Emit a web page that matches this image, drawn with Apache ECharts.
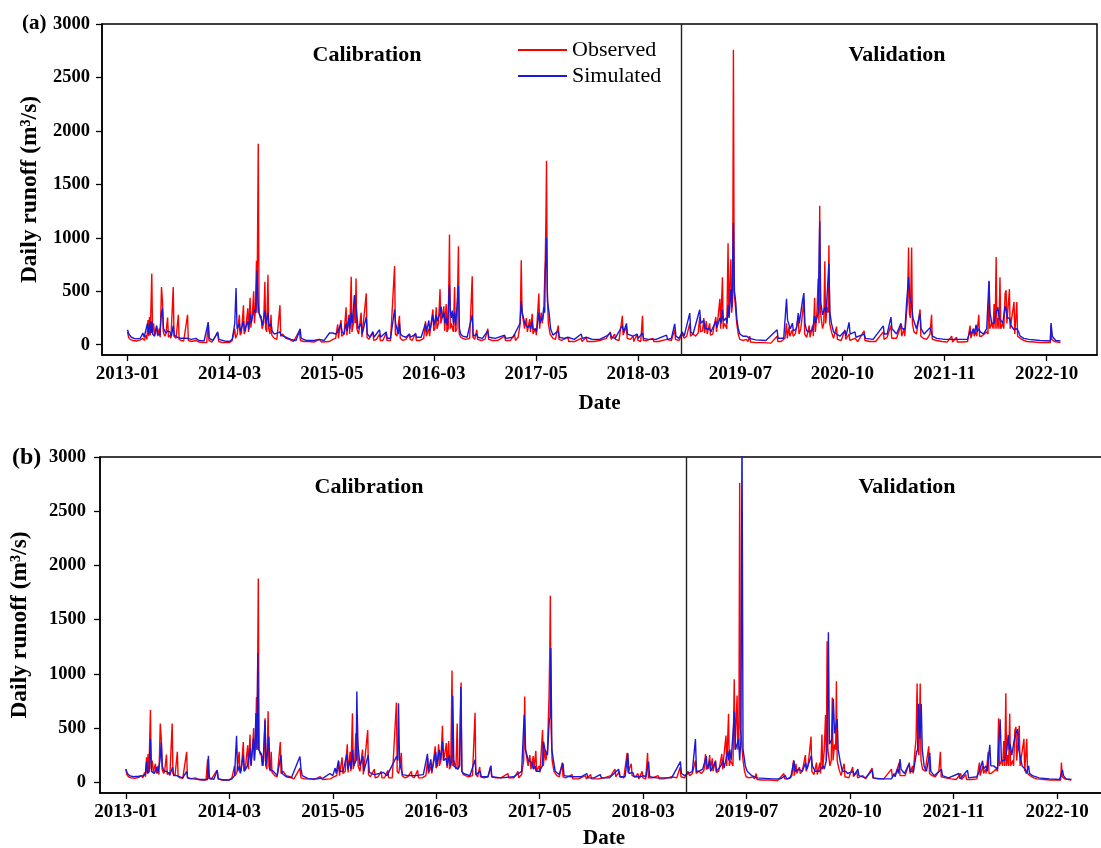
<!DOCTYPE html>
<html>
<head>
<meta charset="utf-8">
<script src="https://cdn.jsdelivr.net/npm/echarts@6/dist/echarts.min.js"></script>
<style>
html,body{margin:0;padding:0;background:#fff;}
#chart{width:1101px;height:848px;}
</style>
</head>
<body>
<div id="chart"></div>
<script>
// x values are day indices from the first record; ticks every 400 records
const tickDays = [0, 400, 800, 1200, 1600, 2000, 2400, 2800, 3200, 3600];
const tickLabels = ['2013-01','2014-03','2015-05','2016-03','2017-05','2018-03','2019-07','2020-10','2021-11','2022-10'];
const yTicks = [0, 500, 1000, 1500, 2000, 2500, 3000];
const splitDay = 2168; // calibration / validation boundary

const observed = [
[0,120],[4,70],[10,50],[20,40],[35,35],[50,45],[60,60],[66,40],[72,90],[76,50],[80,230],[83,80],[86,260],[89,90],[95,665],[98,120],[102,200],[106,90],[114,170],[118,80],[124,150],[128,70],[133,540],[137,400],[140,120],[146,80],[150,100],[157,255],[160,70],[166,90],[170,60],[179,540],[182,80],[190,60],[199,280],[202,50],[210,40],[220,35],[235,280],[238,40],[250,30],[268,40],[280,25],[294,20],[310,20],[316,210],[319,40],[330,25],[353,110],[357,30],[372,20],[399,20],
[410,40],[420,150],[423,60],[430,100],[438,280],[441,90],[446,110],[454,370],[457,100],[462,130],[471,340],[474,120],[480,440],[483,160],[490,330],[494,500],[497,200],[501,330],[505,785],[507,300],[512,1880],[515,300],[520,250],[523,270],[527,150],[533,200],[538,590],[541,150],[545,120],[550,655],[553,150],[558,100],[562,280],[565,90],[575,60],[585,50],[597,370],[600,80],[608,100],[620,60],[634,50],[650,30],[673,130],[677,40],[690,30],[712,30],[730,25],[751,50],[760,25],[791,30],
[804,50],[815,60],[823,190],[826,60],[836,230],[839,80],[848,100],[856,350],[859,90],[867,280],[870,100],[876,635],[879,120],[885,200],[889,450],[892,200],[895,620],[898,150],[905,100],[915,300],[918,70],[925,60],[935,480],[938,70],[945,50],[961,120],[964,40],[975,50],[987,100],[990,40],[1000,40],[1013,110],[1016,40],[1030,40],[1046,735],[1049,100],[1055,80],[1065,270],[1068,60],[1078,40],[1090,50],[1104,100],[1107,50],[1115,40],[1128,110],[1131,40],[1145,40],[1160,60],[1167,220],[1170,80],[1180,150],[1183,80],[1190,90],[1196,330],[1199,130],
[1204,150],[1209,350],[1212,150],[1218,200],[1224,520],[1227,200],[1232,250],[1239,360],[1242,130],[1248,380],[1251,120],[1256,150],[1261,1030],[1264,150],[1268,200],[1272,200],[1276,120],[1281,540],[1284,120],[1290,150],[1296,920],[1299,100],[1305,70],[1313,60],[1325,50],[1340,60],[1350,640],[1353,70],[1360,50],[1368,140],[1371,50],[1385,40],[1400,50],[1411,150],[1414,50],[1430,40],[1450,40],[1477,80],[1480,40],[1500,40],[1516,100],[1519,40],[1530,70],[1538,200],[1542,790],[1545,300],[1551,300],[1555,150],[1562,250],[1566,120],[1575,240],[1578,120],[1585,290],[1588,100],[1598,150],[1601,90],
[1606,100],[1611,480],[1614,150],[1620,300],[1624,200],[1630,300],[1636,790],[1639,1230],[1641,1720],[1644,500],[1648,200],[1655,100],[1666,60],[1676,50],[1687,180],[1690,50],[1700,40],[1725,70],[1728,30],[1750,30],[1777,60],[1780,30],[1797,70],[1800,30],[1825,30],[1849,40],[1875,60],[1891,120],[1894,50],[1908,100],[1911,50],[1925,40],[1938,270],[1941,90],[1954,170],[1957,60],[1970,50],[1980,80],[1983,30],[1996,100],[1999,40],
[2010,30],[2017,270],[2020,40],[2035,40],[2058,60],[2061,30],[2080,30],[2111,50],[2130,40],[2143,140],[2146,50],[2160,40],[2173,100],[2180,60],[2190,80],[2202,200],[2205,80],[2215,100],[2225,80],[2235,110],[2241,260],[2244,120],[2252,130],[2257,250],[2260,110],[2267,220],[2270,100],[2280,200],[2283,90],[2292,100],[2304,260],[2307,120],[2313,130],[2320,430],[2323,150],[2330,630],[2333,150],[2338,200],[2343,200],[2347,150],[2352,950],[2355,300],[2363,800],[2366,300],[2370,400],[2373,2760],[2376,500],[2382,500],[2386,200],[2392,100],[2398,50],
[2410,40],[2424,50],[2430,30],[2437,80],[2440,25],[2460,20],[2489,20],[2520,15],[2544,80],[2547,30],[2560,30],[2575,60],[2581,200],[2584,60],[2591,170],[2594,80],[2604,140],[2607,80],[2615,100],[2627,250],[2630,100],[2637,150],[2644,300],[2649,420],[2652,100],[2660,70],[2670,180],[2673,70],[2683,180],[2686,80],[2691,440],[2694,120],[2700,300],[2705,620],[2708,200],[2711,1300],[2714,300],[2722,150],[2727,200],[2731,780],[2734,200],[2740,350],[2744,300],[2747,930],[2750,200],[2757,120],[2765,60],[2777,170],[2780,50],[2795,40],[2810,140],[2813,50],
[2826,100],[2829,40],[2849,60],[2860,30],[2885,130],[2888,40],[2907,30],[2930,30],[2960,120],[2963,50],[2975,70],[2990,180],[2993,60],[3012,60],[3029,180],[3032,80],[3041,150],[3044,80],[3051,300],[3055,400],[3059,910],[3062,300],[3066,250],[3071,910],[3074,200],[3080,120],[3090,100],[3104,330],[3107,80],[3117,60],[3130,50],[3143,100],[3149,280],[3152,50],[3169,40],[3190,30],[3210,25],[3228,80],[3231,25],[3247,70],[3250,25],[3270,25],[3290,30],[3300,180],[3303,60],
[3313,150],[3316,80],[3323,120],[3326,80],[3334,280],[3337,80],[3345,80],[3352,80],[3365,120],[3370,100],[3374,590],[3377,150],[3385,200],[3390,150],[3394,380],[3398,150],[3402,820],[3405,150],[3409,250],[3413,150],[3417,630],[3420,150],[3428,200],[3432,150],[3437,480],[3441,510],[3444,200],[3450,200],[3454,520],[3457,150],[3463,150],[3472,400],[3475,100],[3483,400],[3486,80],[3496,60],[3510,40],[3522,30],[3550,25],[3574,20],[3600,20],[3614,20],[3617,180],[3620,50],[3630,30],[3654,20]
];

const simulatedA = [
[0,140],[5,100],[15,70],[30,55],[50,60],[60,110],[65,70],[72,70],[78,200],[82,100],[88,220],[92,110],[95,220],[98,100],[106,80],[114,180],[118,100],[126,90],[133,300],[137,340],[141,150],[150,110],[157,130],[166,120],[172,80],[179,180],[183,90],[195,70],[210,60],[235,60],[250,50],[268,60],[280,40],[300,35],[316,210],[320,60],[335,40],[353,120],[358,50],[380,35],[399,30],
[410,50],[420,200],[425,530],[429,150],[438,200],[442,120],[454,220],[458,130],[471,220],[475,140],[480,290],[484,200],[490,270],[497,330],[502,300],[507,694],[511,400],[515,300],[523,250],[528,180],[538,320],[542,200],[550,300],[554,170],[562,200],[566,130],[575,100],[597,120],[601,90],[610,80],[620,70],[640,50],[660,40],[676,150],[680,60],[700,40],[730,40],[751,50],[770,40],[791,110],
[804,110],[815,100],[823,120],[827,110],[836,200],[840,120],[848,100],[856,200],[860,130],[867,250],[871,150],[876,300],[880,200],[889,464],[893,390],[897,300],[903,150],[915,200],[919,100],[935,260],[939,100],[950,70],[961,120],[965,70],[987,140],[991,70],[1013,120],[1017,60],[1030,60],[1046,330],[1050,200],[1060,100],[1065,200],[1069,100],[1078,80],[1090,70],[1104,100],[1108,70],[1128,100],[1132,70],[1150,70],[1167,200],[1171,120],[1180,227],[1184,130],[1196,280],[1200,180],
[1209,280],[1213,220],[1224,300],[1228,358],[1233,250],[1239,300],[1243,200],[1248,250],[1253,180],[1261,560],[1264,320],[1268,250],[1272,320],[1276,200],[1281,300],[1285,180],[1296,550],[1300,150],[1305,100],[1313,80],[1330,70],[1350,280],[1354,80],[1368,100],[1372,70],[1390,60],[1411,130],[1415,70],[1440,60],[1477,90],[1481,60],[1510,70],[1533,180],[1537,200],[1542,411],[1546,300],[1551,300],[1556,200],[1562,200],[1567,160],[1575,180],[1579,150],[1585,220],[1589,140],[1598,150],[1602,120],
[1611,300],[1615,200],[1620,250],[1625,230],[1630,350],[1634,300],[1636,670],[1641,1000],[1645,400],[1651,300],[1657,150],[1666,90],[1687,130],[1691,70],[1710,60],[1725,70],[1750,50],[1777,100],[1781,60],[1797,70],[1820,50],[1849,50],[1875,80],[1891,110],[1895,70],[1910,60],[1938,180],[1943,120],[1954,200],[1958,100],[1980,80],[1996,100],[2000,60],
[2017,110],[2021,60],[2040,50],[2070,50],[2111,90],[2115,50],[2130,60],[2143,196],[2148,80],[2160,60],[2173,120],[2180,80],[2202,296],[2206,120],[2215,100],[2241,327],[2245,200],[2257,230],[2262,150],[2280,150],[2285,120],[2304,220],[2308,160],[2320,250],[2325,200],[2330,330],[2334,220],[2343,250],[2348,200],[2352,374],[2356,250],[2363,520],[2367,350],[2373,1140],[2377,500],[2382,400],[2386,250],[2392,150],[2398,100],
[2410,80],[2424,80],[2437,60],[2460,45],[2500,40],[2544,140],[2548,60],[2570,60],[2581,430],[2585,230],[2591,233],[2596,150],[2604,202],[2608,130],[2620,150],[2627,296],[2631,200],[2644,420],[2649,483],[2653,200],[2660,130],[2670,120],[2683,140],[2691,270],[2695,200],[2705,300],[2711,1153],[2715,400],[2722,280],[2731,350],[2736,300],[2747,757],[2751,300],[2757,200],[2765,120],[2777,100],[2790,80],[2810,130],[2814,80],
[2826,209],[2830,100],[2849,120],[2853,70],[2885,100],[2890,60],[2920,50],[2960,177],[2964,100],[2975,100],[2990,258],[2994,150],[3012,100],[3029,200],[3034,150],[3045,150],[3051,383],[3056,400],[3059,633],[3064,450],[3071,380],[3076,250],[3090,150],[3104,290],[3108,150],[3120,100],[3143,160],[3149,160],[3153,80],[3169,60],[3200,50],[3228,50],[3260,50],[3290,50],[3300,130],[3305,100],
[3313,150],[3318,100],[3323,187],[3328,120],[3334,150],[3340,120],[3352,100],[3365,150],[3374,598],[3378,300],[3385,200],[3394,200],[3402,300],[3409,350],[3414,250],[3417,250],[3428,200],[3437,364],[3441,320],[3446,250],[3454,250],[3460,180],[3472,140],[3483,150],[3490,120],[3496,80],[3510,60],[3530,50],[3574,40],[3614,35],[3617,202],[3622,80],[3635,40],[3654,35]
];

const simulatedB = [
[0,120],[6,80],[15,60],[28,50],[50,55],[65,60],[75,70],[80,190],[84,80],[90,100],[95,400],[99,100],[110,80],[119,140],[123,80],[132,200],[137,370],[141,150],[147,100],[157,100],[170,70],[181,140],[185,60],[196,60],[220,40],[235,100],[239,40],[260,30],[290,25],[316,25],[319,243],[323,40],[340,25],[353,110],[357,30],[380,20],[399,20],
[410,30],[420,60],[428,428],[432,100],[439,150],[443,80],[454,252],[458,100],[470,150],[480,310],[484,150],[493,400],[497,200],[503,637],[507,300],[510,1191],[514,300],[525,250],[530,150],[538,570],[542,150],[553,420],[557,120],[570,100],[585,60],[600,250],[604,80],[620,50],[640,40],[673,237],[677,120],[682,60],[706,30],[740,30],[764,40],[789,80],
[800,60],[809,130],[813,80],[822,200],[826,100],[840,100],[854,260],[858,120],[867,200],[871,120],[877,300],[881,150],[890,200],[893,837],[896,390],[899,300],[905,150],[916,240],[920,100],[937,250],[941,90],[960,70],[980,80],[996,90],[1010,60],[1047,240],[1051,200],[1054,729],[1058,200],[1063,130],[1070,70],[1090,60],[1120,60],[1150,70],[1166,261],[1170,100],[1179,210],[1183,100],[1198,280],[1202,150],
[1212,300],[1216,200],[1225,375],[1229,200],[1238,220],[1242,150],[1251,250],[1255,150],[1260,200],[1264,797],[1268,150],[1273,150],[1283,120],[1290,150],[1295,877],[1299,100],[1305,80],[1330,60],[1350,206],[1354,70],[1370,100],[1374,50],[1400,50],[1411,150],[1415,50],[1450,40],[1500,50],[1530,100],[1540,622],[1545,300],[1550,300],[1556,200],[1570,180],[1575,120],[1582,150],[1586,100],[1599,100],
[1610,150],[1615,375],[1620,300],[1624,300],[1630,250],[1637,575],[1640,600],[1643,1238],[1647,300],[1653,200],[1660,100],[1675,70],[1690,175],[1694,60],[1720,50],[1760,50],[1782,80],[1786,40],[1810,40],[1834,70],[1838,40],[1870,40],[1905,120],[1909,50],[1930,50],[1941,267],[1945,80],[1960,90],[1965,50],[1990,50],[2000,60],
[2010,50],[2021,190],[2025,50],[2050,40],[2080,40],[2110,40],[2144,190],[2148,80],[2160,60],[2175,80],[2190,100],[2202,397],[2206,100],[2215,100],[2230,120],[2244,240],[2248,120],[2257,200],[2261,100],[2279,190],[2283,100],[2300,150],[2309,200],[2313,130],[2327,290],[2331,200],[2335,300],[2340,200],[2353,652],[2357,300],[2369,400],[2373,200],[2378,400],[2382,3300],[2386,300],[2389,300],[2395,150],[2402,100],
[2420,60],[2440,40],[2470,35],[2500,30],[2530,30],[2550,60],[2554,30],[2570,40],[2583,200],[2587,100],[2602,120],[2615,100],[2628,180],[2632,120],[2650,243],[2654,150],[2665,100],[2680,100],[2696,150],[2700,120],[2708,200],[2712,400],[2716,1382],[2720,350],[2725,350],[2730,400],[2735,770],[2740,450],[2744,450],[2750,582],[2754,300],[2761,200],[2770,100],[2783,100],[2790,80],[2812,100],[2816,60],
[2830,120],[2834,60],[2860,40],[2886,110],[2890,40],[2920,30],[2960,30],[2970,80],[2974,50],[2983,120],[2987,80],[2993,212],[2997,120],[3010,80],[3028,170],[3032,100],[3045,100],[3057,280],[3061,300],[3065,723],[3070,400],[3075,720],[3079,300],[3086,150],[3095,100],[3108,270],[3112,100],[3125,60],[3153,120],[3157,60],[3180,40],[3221,80],[3225,30],[3254,110],[3258,40],[3290,50],[3300,100],
[3312,197],[3316,120],[3325,150],[3330,100],[3340,344],[3344,150],[3355,150],[3370,120],[3380,580],[3385,200],[3392,200],[3398,200],[3406,300],[3411,437],[3415,300],[3419,350],[3425,250],[3434,380],[3441,452],[3447,489],[3452,300],[3457,300],[3465,150],[3477,120],[3481,80],[3490,150],[3494,80],[3505,60],[3530,40],[3570,30],[3610,25],[3621,113],[3625,60],[3635,30],[3656,25]
];

const FONT = 'Liberation Serif';
const RED = '#ff0000';
const BLUE = '#1a1ad6';

function xAxisCfg(gridIndex, nameGap) {
  return {
    type: 'value', gridIndex: gridIndex, min: -100, max: 3797,
    name: 'Date', nameLocation: 'middle', nameGap: nameGap,
    nameTextStyle: { fontFamily: FONT, fontWeight: 'bold', fontSize: 21, color: '#000' },
    axisLine: { show: true, onZero: false, lineStyle: { color: '#000', width: 1.5 } },
    axisTick: { show: true, length: 6, lineStyle: { color: '#000', width: 1.3 }, customValues: tickDays },
    axisLabel: { show: true, margin: 10, fontFamily: FONT, fontWeight: 'bold', fontSize: 19, color: '#000',
      customValues: tickDays,
      formatter: function (v) { const i = tickDays.indexOf(v); return i >= 0 ? tickLabels[i] : ''; } },
    splitLine: { show: false }
  };
}
function yAxisCfg(gridIndex, min, nameGap, labelMargin) {
  return {
    type: 'value', gridIndex: gridIndex, min: min, max: 3000,
    name: 'Daily runoff (m\u00b3/s)', nameLocation: 'middle', nameGap: nameGap,
    nameTextStyle: { fontFamily: FONT, fontWeight: 'bold', fontSize: 23.5, color: '#000' },
    axisLine: { show: true, onZero: false, lineStyle: { color: '#000', width: 1.5 } },
    axisTick: { show: true, length: 6, lineStyle: { color: '#000', width: 1.3 }, customValues: yTicks },
    axisLabel: { show: true, margin: labelMargin, fontFamily: FONT, fontWeight: 'bold', fontSize: 18.5, color: '#000',
      customValues: yTicks, formatter: function (v) { return String(v); } },
    splitLine: { show: false }
  };
}
function lineSeries(name, data, color, xi, withSplit) {
  const s = {
    name: name, type: 'line', data: data, xAxisIndex: xi, yAxisIndex: xi,
    showSymbol: false, symbol: 'none', animation: false,
    lineStyle: { color: color, width: 1.4 }, itemStyle: { color: color },
    clip: true
  };
  if (withSplit) {
    s.markLine = {
      silent: true, symbol: 'none', animation: false,
      label: { show: false },
      lineStyle: { color: '#222', width: 1.4, type: 'solid' },
      data: [{ xAxis: splitDay }]
    };
  }
  return s;
}

const chart = echarts.init(document.getElementById('chart'), null, { renderer: 'canvas' });
const titleStyle = { fontFamily: FONT, fontWeight: 'bold', fontSize: 22, fill: '#000', textAlign: 'center', textVerticalAlign: 'middle' };
chart.setOption({
  backgroundColor: '#fff',
  animation: false,
  grid: [
    { left: 102, top: 24, width: 995, height: 331, show: true, borderColor: '#000', borderWidth: 1.5, containLabel: false, outerBoundsMode: 'none' },
    { left: 100, top: 457, width: 1008, height: 336, show: true, borderColor: '#000', borderWidth: 1.5, containLabel: false, outerBoundsMode: 'none' }
  ],
  xAxis: [xAxisCfg(0, 38), xAxisCfg(1, 35)],
  yAxis: [yAxisCfg(0, -96, 59, 12), yAxisCfg(1, -100, 68, 14)],
  legend: {
    show: true, orient: 'vertical', left: 513, top: 34, itemWidth: 49, itemHeight: 2, itemGap: 4,
    icon: 'rect', data: ['Observed', 'Simulated'],
    textStyle: { fontFamily: FONT, fontSize: 22, color: '#000', lineHeight: 22 },
    selectedMode: false
  },
  series: [
    lineSeries('Observed', observed, RED, 0, true),
    lineSeries('Simulated', simulatedA, BLUE, 0, false),
    lineSeries('Observed', observed, RED, 1, true),
    lineSeries('Simulated', simulatedB, BLUE, 1, false)
  ],
  graphic: [
    { type: 'text', left: 22, top: 13, style: { text: '(a)', fontFamily: FONT, fontWeight: 'bold', fontSize: 21, fill: '#000' } },
    { type: 'text', left: 12, top: 446, style: { text: '(b)', fontFamily: FONT, fontWeight: 'bold', fontSize: 24, fill: '#000' } },
    { type: 'text', x: 367, y: 55, style: Object.assign({ text: 'Calibration' }, titleStyle) },
    { type: 'text', x: 897, y: 55, style: Object.assign({ text: 'Validation' }, titleStyle) },
    { type: 'text', x: 369, y: 487, style: Object.assign({ text: 'Calibration' }, titleStyle) },
    { type: 'text', x: 907, y: 487, style: Object.assign({ text: 'Validation' }, titleStyle) }
  ]
});
</script>
</body>
</html>
